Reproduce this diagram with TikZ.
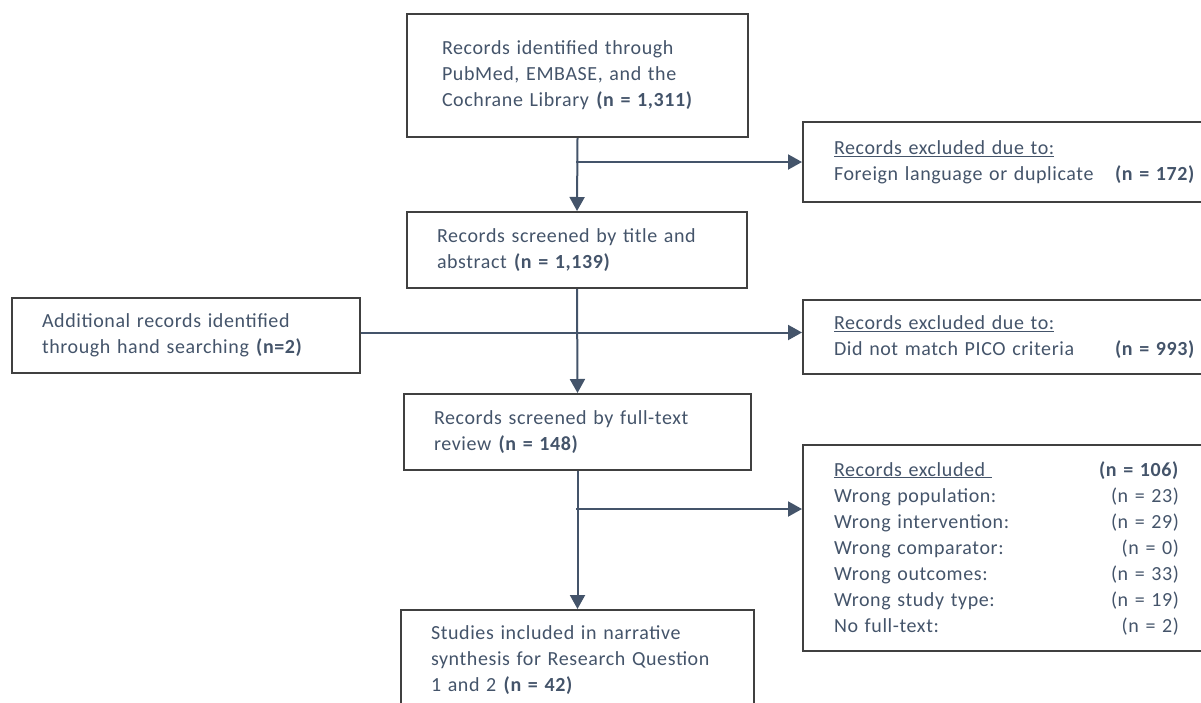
\documentclass[tikz,border=0pt]{standalone}
\usepackage{fontspec}
\setmainfont{Carlito}[LetterSpace=3]
\usetikzlibrary{arrows.meta}
\definecolor{slate}{HTML}{44546A}
\definecolor{edge}{HTML}{404040}

\begin{document}
\begin{tikzpicture}[x=1pt,y=-1pt,
        box/.style={draw=edge,line width=2pt,rectangle,anchor=north west,align=left,
            inner xsep=30pt,inner ysep=0pt,text=slate,font=\fontsize{20}{26}\selectfont},
        arr/.style={draw=slate,line width=2pt,-{Triangle[length=14pt,width=15pt]}}]
        \useasboundingbox (0,0) rectangle (1201,702);
        \clip (0,0) rectangle (1201,702);
        \node [box,inner xsep=35pt,text width=271pt,minimum height=123pt] (ident) at (406,13)
            {Records identified through\\PubMed, EMBASE, and the\\Cochrane Library \textbf{(n = 1,311)}};
        \node [box,text width=280pt,minimum height=76pt] (screen) at (406,211)
            {Records screened by title and\\abstract \textbf{(n = 1,139)}};
        \node [box,text width=288pt,minimum height=75pt] (extra) at (11,297)
            {Additional records identified\\through hand searching \textbf{(n=2)}};
        \node [box,text width=287pt,minimum height=76pt] (fulltext) at (403,393)
            {Records screened by full-text\\review \textbf{(n = 148)}};
        \node [box,text width=293pt,minimum height=100pt] (included) at (400,609)
            {Studies included in narrative\\synthesis for Research Question\\1 and 2 \textbf{(n = 42)}};
        \node [box,inner xsep=31pt,text width=361pt,minimum height=80pt] (excl1) at (802,121)
            {\underline{Records excluded due to:}\\Foreign language or duplicate\hfill\textbf{(n = 172)}};
        \node [box,inner xsep=31pt,text width=361pt,minimum height=74pt] (excl2) at (802,299)
            {\underline{Records excluded due to:}\\Did not match PICO criteria\hfill\textbf{(n = 993)}};
        \node [box,inner xsep=31pt,text width=345pt,minimum height=206pt] (excl3) at (802,444)
            {\underline{Records excluded\ }\hfill\textbf{(n = 106)}\\
            Wrong population:\hfill(n = 23)\\
            Wrong intervention:\hfill(n = 29)\\
            Wrong comparator:\hfill(n = 0)\\
            Wrong outcomes:\hfill(n = 33)\\
            Wrong study type:\hfill(n = 19)\\
            No full-text:\hfill(n = 2)};
        \coordinate (split1) at (576,162);
        \coordinate (split3) at (576,509);
        \draw [arr] (ident.south) -- (screen.north);
        \draw [arr] (split1) -- (split1 -| excl1.west);
        \draw [arr] ([yshift=3pt]extra.east) -- ([yshift=3pt]extra.east -| excl2.west);
        \draw [arr] (screen.south) -- (fulltext.north);
        \draw [arr] (fulltext.south) -- (included.north);
        \draw [arr] (split3) -- (split3 -| excl3.west);
\end{tikzpicture}
\end{document}
